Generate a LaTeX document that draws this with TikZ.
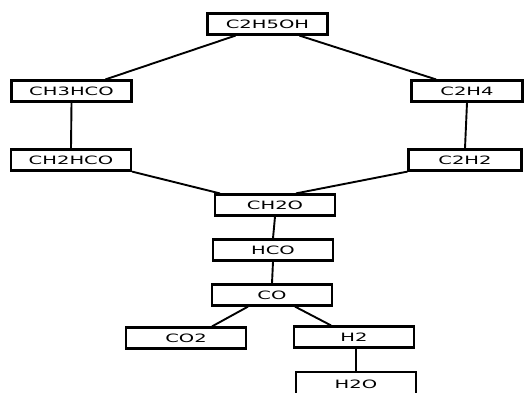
\documentclass[tikz,border=0pt]{standalone}
\usepackage{fontspec}
\newfontfamily\boxfont[FakeStretch=1.7]{DejaVu Sans}
\usepackage{tikz}

\begin{document}
\begin{tikzpicture}[x=1pt, y=-1pt,
    species/.style={draw, line width=2.2pt, minimum width=120pt, minimum height=21pt,
      inner sep=0pt, font=\boxfont\fontsize{11.5}{12}\selectfont},
    link/.style={line width=1.9pt}]
  \useasboundingbox (0,0) rectangle (530,392);

  \node[species] (eth)   at (267.5, 24)  {C2H5OH};
  \node[species] (ald)   at (71.5,  91)  {CH3HCO};
  \node[species, minimum width=111pt] (ethy)  at (467, 91) {C2H4};
  \node[species] (ket)   at (71,   160)  {CH2HCO};
  \node[species, minimum width=113pt] (acet)  at (465, 160) {C2H2};
  \node[species] (form)  at (275,  205)  {CH2O};
  \node[species] (hco)   at (273,  250)  {HCO};
  \node[species] (co)    at (272,  295)  {CO};
  \node[species] (co2)   at (186,  338)  {CO2};
  \node[species] (h2)    at (354,  337)  {H2};
  \node[species, minimum height=24pt] (h2o) at (356, 384) {H2O};

  \draw[link] ([xshift=-32pt]eth.south) -- ([xshift=34pt]ald.north);
  \draw[link] ([xshift=32pt]eth.south)  -- ([xshift=-31pt]ethy.north);
  \draw[link] (ald.south)  -- (ket.north);
  \draw[link] (ethy.south) -- (acet.north);
  \draw[link] (ket.south east) -- ([xshift=6pt]form.north west);
  \draw[link] (acet.south west) -- ([xshift=21pt]form.north);
  \draw[link] (form.south) -- (hco.north);
  \draw[link] (hco.south)  -- (co.north);
  \draw[link] ([xshift=-24pt]co.south) -- ([xshift=26pt]co2.north);
  \draw[link] ([xshift=23pt]co.south)  -- ([xshift=-23pt]h2.north);
  \draw[link] ([xshift=2pt]h2.south) -- (h2o.north);
\end{tikzpicture}
\end{document}
